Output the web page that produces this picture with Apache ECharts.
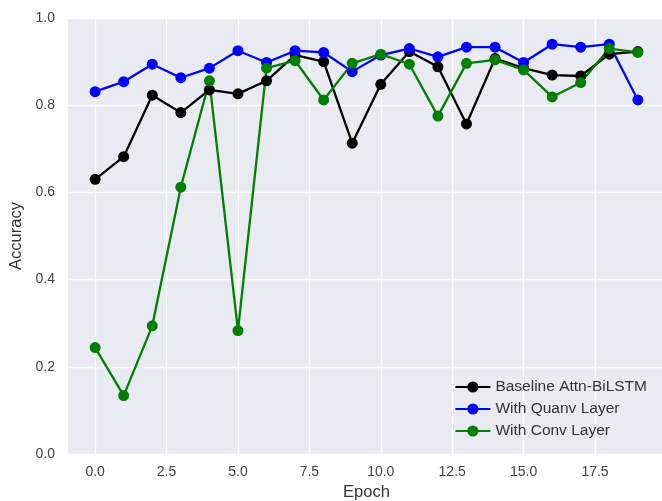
<!DOCTYPE html>
<html>
<head>
<meta charset="utf-8">
<script src="https://cdn.jsdelivr.net/npm/echarts@6/dist/echarts.min.js"></script>
<style>
  html, body { margin: 0; padding: 0; background: #fff; }
  #chart { width: 662px; height: 501px; }
</style>
</head>
<body>
<div id="chart"></div>
<script>
const epochs = [0,1,2,3,4,5,6,7,8,9,10,11,12,13,14,15,16,17,18,19]
// 准确率
const baseline = [0.630,0.682,0.823,0.783,0.835,0.826,0.856,0.915,0.900,0.713,0.848,0.923,0.888,0.757,0.907,0.885,0.869,0.867,0.917,0.923]
const quanv    = [0.831,0.854,0.894,0.863,0.885,0.925,0.898,0.925,0.921,0.877,0.915,0.930,0.911,0.933,0.933,0.898,0.940,0.933,0.940,0.812]
const conv     = [0.244,0.134,0.294,0.612,0.856,0.283,0.885,0.902,0.812,0.896,0.917,0.894,0.775,0.896,0.904,0.881,0.819,0.852,0.930,0.921]
const xTicks = [0, 2.5, 5, 7.5, 10, 12.5, 15, 17.5]
const seriesNames = ['Baseline Attn-BiLSTM', 'With Quanv Layer', 'With Conv Layer']
const seriesColors = ['#000000', '#0000ff', '#008000']

const chart = echarts.init(document.getElementById('chart'))
const font = 'Liberation Sans, Arial, sans-serif'

function mk(name, values, color) {
  return {
    name, type: 'line',
    data: epochs.map((e, i) => [e, values[i]]),
    symbol: 'circle', symbolSize: 11,
    lineStyle: { color, width: 2.3 },
    itemStyle: { color },
    z: 3,
  }
}

chart.setOption({
  animation: false,
  backgroundColor: '#fff',
  grid: {
    left: 68, right: -3, top: 18, bottom: 47,
    outerBoundsMode: 'none', containLabel: false,
    backgroundColor: '#eaeaf2', show: true, borderWidth: 0,
  },
  legend: {
    right: 10, bottom: 57, orient: 'vertical', itemGap: 6,
    itemWidth: 35, itemHeight: 14,
    textStyle: { fontFamily: font, fontSize: 15.5, color: '#333' },
    data: seriesNames,
  },
  xAxis: {
    type: 'value', min: -0.95, max: 19.95,
    name: 'Epoch', nameLocation: 'middle', nameGap: 29,
    nameTextStyle: { fontFamily: font, fontSize: 16.5, color: '#333' },
    axisLine: { show: false },
    axisTick: { show: false, customValues: xTicks },
    axisLabel: {
      fontFamily: font, fontSize: 14, color: '#444', margin: 11,
      customValues: xTicks,
      formatter: v => v.toFixed(1),
    },
    splitLine: { show: true, lineStyle: { color: '#ffffff', width: 1.3 } },
  },
  yAxis: {
    type: 'value', min: 0, max: 1, interval: 0.2,
    name: 'Accuracy', nameLocation: 'middle', nameGap: 39, nameRotate: 90,
    nameTextStyle: { fontFamily: font, fontSize: 16.5, color: '#333' },
    axisLine: { show: false }, axisTick: { show: false },
    axisLabel: { fontFamily: font, fontSize: 14, color: '#444', margin: 13, formatter: v => v.toFixed(1) },
    splitLine: { show: true, lineStyle: { color: '#ffffff', width: 1.3 } },
  },
  series: [
    mk(seriesNames[0], baseline, seriesColors[0]),
    mk(seriesNames[1], quanv, seriesColors[1]),
    mk(seriesNames[2], conv, seriesColors[2]),
  ],
})
</script>
</body>
</html>
